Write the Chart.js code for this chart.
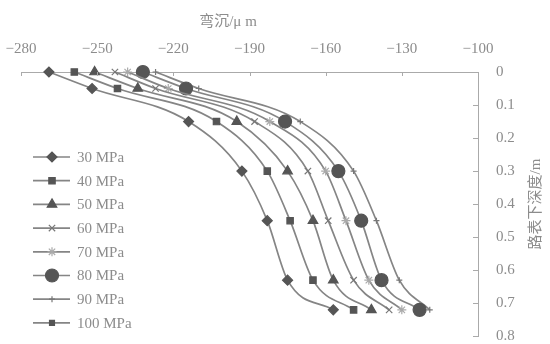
<!DOCTYPE html>
<html>
<head>
<meta charset="utf-8">
<script src="https://cdn.jsdelivr.net/npm/chart.js@4/dist/chart.umd.min.js"></script>
<style>
  html, body { margin: 0; padding: 0; background: #fff; }
  #wrap { width: 550px; height: 344px; }
</style>
</head>
<body>
<div id="wrap"><canvas id="chart" width="550" height="344"></canvas></div>
<script>
// depth below road surface (m)
const depths = [0, 0.05, 0.15, 0.3, 0.45, 0.63, 0.72];

// deflection (um) for each modulus
const mpa30 = [-269, -252, -214, -193, -183, -175, -157];
const mpa40 = [-259, -242, -203, -183, -174, -165, -149];
const mpa50 = [-251, -234, -195, -175, -165, -157, -142];
const mpa60 = [-243, -227, -188, -167, -159, -149, -135];
const mpa70 = [-238, -222, -182, -160, -152, -143, -130];
const mpa80 = [-232, -215, -176, -155, -146, -138, -123];
const mpa90 = [-227, -210, -170, -149, -140, -131, -119];
const mpa100 = []; // only in the legend

const seriesLabels = ["30 MPa", "40 MPa", "50 MPa", "60 MPa", "70 MPa", "80 MPa", "90 MPa", "100 MPa"];
const xTicks = [-280, -250, -220, -190, -160, -130, -100];
const yTicks = [0, 0.1, 0.2, 0.3, 0.4, 0.5, 0.6, 0.7, 0.8];

const xTitle = "弯沉/μ m";
const yTitle = "路表下深度/m";

const lineColor = "#858585";
const markColor = "#555";
const textColor = "#8c8c8c";

const styles = [
    { pointStyle: "rectRot", radius: 5 },
    { pointStyle: "rect", radius: 4.5 },
    { pointStyle: "triangle", radius: 5.5 },
    { pointStyle: "crossRot", radius: 4.5, color: "#777" },
    { pointStyle: "star", radius: 4.5, color: "#aaa" },
    { pointStyle: "circle", radius: 6.5 },
    { pointStyle: "cross", radius: 3, color: "#777" },
    { pointStyle: "rect", radius: 3.5 },
];

const allSeries = [mpa30, mpa40, mpa50, mpa60, mpa70, mpa80, mpa90, mpa100];

const datasets = allSeries.map((vals, i) => ({
    label: seriesLabels[i],
    data: vals.map((v, k) => ({ x: v, y: depths[k] })),
    borderColor: lineColor,
    borderWidth: 1.7,
    backgroundColor: styles[i].color || markColor,
    pointBorderColor: styles[i].color || markColor,
    pointBorderWidth: 1.2,
    pointStyle: styles[i].pointStyle,
    pointRadius: styles[i].radius,
    cubicInterpolationMode: "monotone",
    fill: false,
}));

const fmt = v => (Math.round(v * 10) / 10).toString();

const noPad = scale => {
    scale.paddingTop = 0;
    scale.paddingBottom = 0;
    scale.paddingLeft = 0;
    scale.paddingRight = 0;
};

// titles, inward ticks and the legend inside the plot
const decorPlugin = {
    id: "decor",
    afterDraw(chart) {
        const ctx = chart.ctx;
        const area = chart.chartArea;
        const xs = chart.scales.x;
        const ys = chart.scales.y;
        ctx.save();

        ctx.strokeStyle = "#aaa";
        ctx.lineWidth = 1;
        xTicks.forEach(t => {
            const px = Math.round(xs.getPixelForValue(t)) + 0.5;
            ctx.beginPath();
            ctx.moveTo(px, area.top);
            ctx.lineTo(px, area.top + 4);
            ctx.stroke();
        });
        yTicks.forEach(t => {
            const py = Math.round(ys.getPixelForValue(t)) + 0.5;
            ctx.beginPath();
            ctx.moveTo(area.right - 5, py);
            ctx.lineTo(area.right, py);
            ctx.stroke();
        });

        ctx.fillStyle = textColor;
        ctx.font = "15px 'Liberation Serif', 'Noto Sans CJK SC'";
        ctx.textAlign = "center";
        ctx.textBaseline = "middle";
        ctx.fillText(xTitle, 228, 22);

        ctx.save();
        ctx.translate(536, 204);
        ctx.rotate(-Math.PI / 2);
        ctx.fillText(yTitle, 0, 0);
        ctx.restore();

        // legend
        ctx.font = "15px 'Liberation Serif'";
        ctx.textAlign = "left";
        chart.data.datasets.forEach((ds, i) => {
            const ry = 157 + i * 23.7;
            ctx.strokeStyle = lineColor;
            ctx.lineWidth = 1.7;
            ctx.beginPath();
            ctx.moveTo(33, ry);
            ctx.lineTo(70, ry);
            ctx.stroke();
            ctx.fillStyle = ds.backgroundColor;
            ctx.strokeStyle = ds.pointBorderColor;
            ctx.lineWidth = 1.2;
            if (Chart.helpers && Chart.helpers.drawPoint) {
                Chart.helpers.drawPoint(ctx, {
                    pointStyle: ds.pointStyle,
                    radius: ds.pointRadius,
                    rotation: 0,
                    borderWidth: 1.2,
                }, 52, ry);
            }
            ctx.fillStyle = textColor;
            ctx.fillText(ds.label, 77, ry + 1);
        });

        ctx.restore();
    },
};

new Chart(document.getElementById("chart"), {
    type: "line",
    data: { datasets: datasets },
    options: {
        responsive: false,
        animation: false,
        clip: false,
        layout: { padding: { left: 21, right: 0, top: 0, bottom: 0 } },
        plugins: {
            legend: { display: false },
            tooltip: { enabled: false },
        },
        scales: {
            x: {
                type: "linear",
                position: "top",
                min: -280,
                max: -100,
                afterBuildTicks: scale => { scale.ticks = xTicks.map(v => ({ value: v })); },
                afterFit: scale => { scale.height = 72; noPad(scale); },
                grid: { display: false, drawTicks: false },
                border: { display: true, color: "#aaa", width: 1 },
                ticks: {
                    color: textColor,
                    padding: 14,
                    maxRotation: 0,
                    font: { family: "'Liberation Serif'", size: 15 },
                    callback: v => "\u2212" + Math.abs(v),
                },
            },
            y: {
                type: "linear",
                position: "right",
                reverse: true,
                min: 0,
                max: 0.8,
                afterBuildTicks: scale => { scale.ticks = yTicks.map(v => ({ value: v })); },
                afterFit: scale => { scale.width = 72; noPad(scale); },
                grid: { display: false, drawTicks: false },
                border: { display: true, color: "#aaa", width: 1 },
                ticks: {
                    color: textColor,
                    padding: 18,
                    font: { family: "'Liberation Serif'", size: 15 },
                    callback: v => fmt(v),
                },
            },
        },
    },
    plugins: [decorPlugin],
});
</script>
</body>
</html>
